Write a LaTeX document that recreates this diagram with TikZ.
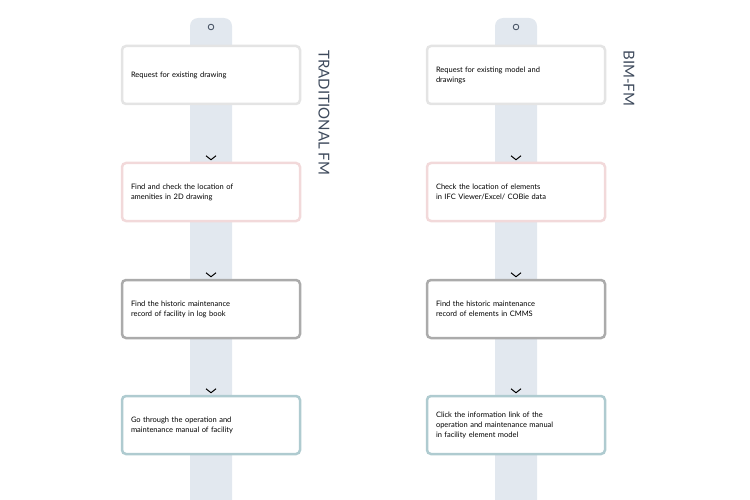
\documentclass[tikz,border=0pt]{standalone}
\usepackage{fontspec}
\setmainfont{Lato}
\usetikzlibrary{positioning}
\definecolor{strip}{HTML}{E2E8EF}
\definecolor{rowA}{HTML}{E4E4E4}
\definecolor{rowB}{HTML}{F2D9DA}
\definecolor{rowC}{HTML}{ABABAB}
\definecolor{rowD}{HTML}{AFCBD0}
\definecolor{title}{HTML}{3E4A5C}
\tikzset{
  step/.style={draw=#1, line width=2.5pt, fill=white, rounded corners=4pt,
    minimum width=178pt, minimum height=58pt, text width=160pt, align=left,
    font=\fontsize{7.5}{10}\selectfont, inner xsep=8pt},
  chev/.style={line width=1pt, black},
  heading/.style={rotate=-90, anchor=north west, font=\fontsize{15}{15}\selectfont, text=title}
}
\begin{document}
\begin{tikzpicture}[x=1pt,y=-1pt]
\useasboundingbox (0,0) rectangle (750,500);
% Strips
\foreach \s/\cx in {l/211, r/516} {
    \fill[strip, rounded corners=8pt] (\cx-21,18) rectangle (\cx+21,520);
    \draw[title, line width=0.8pt] (\cx,27) circle (2.8);
}
% Steps
\foreach \i/\y/\c/\ltext/\rtext in {
    1/75/rowA/{Request for existing drawing}/{Request for existing model and\\drawings},
    2/192/rowB/{Find and check the location of\\amenities in 2D drawing}/{Check the location of elements\\in IFC Viewer/Excel/ COBie data},
    3/309/rowC/{Find the historic maintenance\\record of facility in log book}/{Find the historic maintenance\\record of elements in CMMS},
    4/425/rowD/{Go through the operation and\\maintenance manual of facility}/{Click the information link of the\\operation and maintenance manual\\in facility element model}
} {
    \node[step=\c] (l\i) at (211,\y) {\ltext};
    \node[step=\c] (r\i) at (516,\y) {\rtext};
}
% Chevrons
\foreach \i in {2,3,4} {
    \foreach \s in {l,r} {
        \draw[chev] ([xshift=-5pt,yshift=6pt]\s\i.north) -- ([yshift=2pt]\s\i.north) -- ([xshift=5pt,yshift=6pt]\s\i.north);
    }
}
% Headings
\node[heading] (tfm) at (333,47) {TRADITIONAL FM};
\node[heading] (bim) at (638,47) {BIM-FM};
\end{tikzpicture}
\end{document}
